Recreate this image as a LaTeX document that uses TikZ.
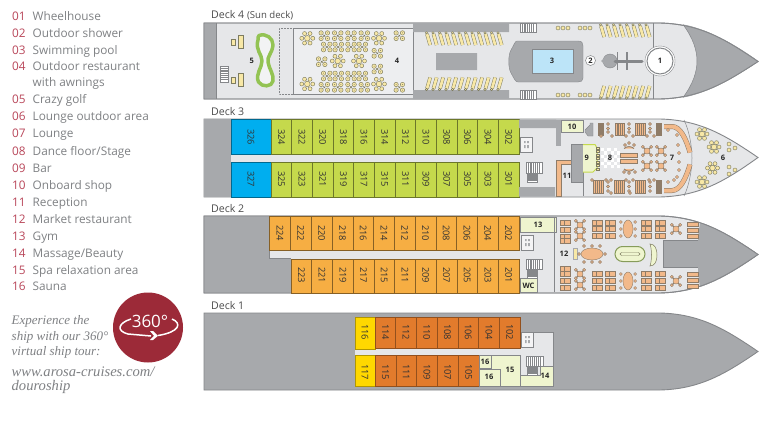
\documentclass[tikz,border=0pt]{standalone}
\usepackage{fontspec}
\setmainfont{Open Sans}
\newfontfamily\serifit{Liberation Serif}
\usetikzlibrary{calc}
\definecolor{hullline}{HTML}{85878A}
\definecolor{hulllight}{HTML}{E6E7E9}
\definecolor{hulldark}{HTML}{A7A9AC}
\definecolor{numred}{HTML}{B9475A}
\definecolor{legtext}{HTML}{7F8184}
\definecolor{wine}{HTML}{9C2A38}
\definecolor{cabblue}{HTML}{00AEEF}
\definecolor{cabgreen}{HTML}{C5D94C}
\definecolor{cabsand}{HTML}{F6AE43}
\definecolor{cabrust}{HTML}{E27B2C}
\definecolor{cabyellow}{HTML}{FFD800}
\definecolor{palegreen}{HTML}{EFF5CF}
\definecolor{pool}{HTML}{BCE4F8}
\definecolor{golf}{HTML}{93C353}
\definecolor{seat}{HTML}{F8E8A6}
\definecolor{seatline}{HTML}{7E7C60}
\definecolor{sofa}{HTML}{F2B98A}
\definecolor{sofaline}{HTML}{8F7C68}
\tikzset{
  x=1pt,y=-1pt,
  hullshape/.style={draw=hullline,line width=0.9pt},
  cabnum/.style={rotate=-90,inner sep=0,text=black!80,font=\fontsize{9.3}{10}\selectfont},
  decklabel/.style={anchor=base west,inner sep=0,text=black!70,font=\fontsize{10.6}{12}\selectfont},
  roomnum/.style={inner sep=0,text=black!85,font=\fontsize{7.5}{9}\selectfont\bfseries},
  legnum/.style={anchor=base west,inner sep=0,text=numred,font=\fontsize{11.8}{13}\selectfont},
  legitem/.style={anchor=base west,inner sep=0,text=legtext,font=\fontsize{11.8}{13}\selectfont},
  tourtext/.style={anchor=base west,inner sep=0,text=legtext,font=\fontsize{13}{14}\serifit\itshape},
  tourlink/.style={anchor=base west,inner sep=0,text=legtext,font=\fontsize{14.6}{15}\serifit\itshape},
  seatdot/.style={fill=seat,draw=seatline,line width=0.45pt},
  sofadot/.style={fill=sofa,draw=sofaline,line width=0.4pt},
  darkpart/.style={fill=hulldark,draw=hullline,line width=0.4pt},
  palebox/.style={fill=palegreen,draw=hullline,line width=0.5pt},
}
\newcommand{\hullpath}[2]{(204,#1) -- (660,#1) .. controls (700,#1+1) and (725,#1+16) .. (758,#1+38.5) .. controls (725,#2-16) and (700,#2-1) .. (660,#2) -- (204,#2) -- cycle}
\newcommand{\cabins}[8]{% first x, width, ytop, ybottom, ytext, colour, outline, list
  \foreach \n [count=\i from 0] in {#8} {
    \draw[fill=#6,draw=#7,line width=0.5pt] ({#1+\i*#2},#3) rectangle ({#1+(\i+1)*#2},#4);
    \node[cabnum] (c\n) at ({#1+(\i+0.5)*#2},#5) {\n};
  }}
\newcommand{\stairs}[4]{\draw[fill=white,draw=hullline,line width=0.4pt] (#1,#2) rectangle (#3,#4);
  \foreach \t in {0.12,0.24,...,0.9} \draw[hullline,line width=0.6pt] ({#1+\t*(#3-#1)},#2) -- ({#1+\t*(#3-#1)},#4);}
\newcommand{\hstairs}[4]{\draw[fill=white,draw=hullline,line width=0.4pt] (#1,#2) rectangle (#3,#4);
  \foreach \t in {0.12,0.24,...,0.9} \draw[hullline,line width=0.6pt] (#1,{#2+\t*(#4-#2)}) -- (#3,{#2+\t*(#4-#2)});}
\newcommand{\liftbox}[2]{\draw[fill=hulllight!45!white,draw=hullline,line width=0.4pt] (#1,#2) rectangle ++(12.5,15);
  \fill[hulldark] (#1+4,#2+4) rectangle ++(1.6,2) (#1+7.2,#2+4) rectangle ++(1.6,2) (#1+4,#2+8) rectangle ++(1.6,3) (#1+7.2,#2+8) rectangle ++(1.6,3);}
\newcommand{\squaretable}[2]{\begin{scope}[shift={(#1,#2)}]
  \foreach \a/\b in {-3.2/-2.8,3.2/-2.8,-3.2/2.8,3.2/2.8} {
    \draw[seatdot] (\a,\b) circle[radius=2.2];
    \fill[seatline] (\a,\b) circle[radius=0.5];
  }
  \draw[seatline,line width=0.5pt] (-1,-1) -- (1,1) (1,-1) -- (-1,1);
  \end{scope}}
\newcommand{\roundtable}[3][5.5]{\begin{scope}[shift={(#2,#3)}]
  \foreach \a in {0,60,...,300} \draw[seatdot] (\a:#1) circle[radius=2];
  \draw[seatdot] (0,0) circle[radius=2.8];
  \end{scope}}
\newcommand{\loungerdown}[2]{\draw[seatline,line width=3.6pt] (#1,#2) -- ++(3.2,11);
  \draw[seat,line width=2.7pt] (#1,#2) -- ++(3.2,11);
  \draw[seatdot] (#1-0.5,#2-1.2) circle[radius=1.2];}
\newcommand{\loungerup}[2]{\draw[seatline,line width=3.6pt] (#1+3.2,#2) -- ++(-3.2,11);
  \draw[seat,line width=2.7pt] (#1+3.2,#2) -- ++(-3.2,11);
  \draw[seatdot] (#1-0.5,#2+12) circle[radius=1.2];}
\newcommand{\crosstable}[2]{\begin{scope}[shift={(#1,#2)}]
  \foreach \a/\b in {-4.2/-4.2,4.2/-4.2,-4.2/4.2,4.2/4.2} {\draw[sofaline,line width=1.2pt] (0,0) -- (\a,\b); \draw[sofadot] (\a,\b) circle[radius=1.5];}
  \draw[sofadot] (0,0) circle[radius=3];
  \end{scope}}
\newcommand{\diner}[2]{\draw[sofadot] (#1-5.2,#2-2.4) rectangle ++(10.4,4.8);
  \draw[sofaline,line width=0.4pt] (#1-1,#2-2.4) -- ++(0,4.8);
  }
\newcommand{\sofablock}[4]{\draw[sofadot] (#1,#2) rectangle (#3,#4);
  \foreach \t in {0.2,0.4,0.6,0.8} \draw[sofaline,line width=0.5pt] ({#1+\t*(#3-#1)},#2) -- ({#1+\t*(#3-#1)},#4);}
\newcommand{\longtable}[2]{\begin{scope}[shift={(#1,#2)}]
  \foreach \a in {-7,0,7} {\draw[sofadot] (-7.2,\a) circle[radius=1.5]; \draw[sofadot] (7.2,\a) circle[radius=1.5];}
  \draw[sofadot] (0,0) ellipse[x radius=5,y radius=9];
  \end{scope}}
\begin{document}
\begin{tikzpicture}
\useasboundingbox (0,0) rectangle (763,431);
\fill[white] (0,0) rectangle (763,431);

% ---------- legend
\foreach \y/\n/\t in {16/01/Wheelhouse,33/02/Outdoor shower,50/03/Swimming pool,66/04/Outdoor restaurant,99/05/Crazy golf,116/06/Lounge outdoor area,133/07/Lounge,151/08/Dance floor{/}Stage,168/09/Bar,185/10/Onboard shop,202/11/Reception,219/12/Market restaurant,236/13/Gym,253/14/Massage{/}Beauty,270/15/Spa relaxation area,286/16/Sauna} {
  \node[legnum] (n\n) at (12,\y+4.3) {\n};
  \node[legitem] (t\n) at (32.5,\y+4.3) {\t};
}
\node[legitem] (t04b) at (32.5,86.3) {with awnings};

\node[tourtext] (e1) at (11.5,324) {Experience the};
\node[tourtext] (e2) at (11.5,340) {ship with our 360°};
\node[tourtext] (e3) at (11.5,355) {virtual ship tour:};
\node[tourlink] (e4) at (11.5,376) {www.arosa-cruises.com/};
\node[tourlink] (e5) at (11.5,390) {douroship};

\fill[wine] (148,327.5) circle[radius=35];
\node[inner sep=0,text=white,font=\fontsize{17}{18}\selectfont] (tour) at (150,321) {360°};
\draw[white,line width=1.5pt] (131,319) .. controls (118,323) and (116,331) .. (128,334) -- (151,336);
\draw[white,line width=1.5pt] (172,319) .. controls (182,323) and (180,332) .. (158,335.5);
\fill[white] (150,331) -- (154,335.8) -- (150,340) -- (153,340) -- (158,335.8) -- (153,331) -- cycle;

% ---------- deck labels
\node[decklabel] (d4) at (211,19) {Deck 4 \fontsize{9.6}{10}\selectfont(Sun deck)};
\node[decklabel] (d3) at (211,115.5) {Deck 3};
\node[decklabel] (d2) at (211,212) {Deck 2};
\node[decklabel] (d1) at (211,309) {Deck 1};

% ---------- DECK 4
\draw[hullshape,fill=hulllight] \hullpath{23}{99};
\fill[hulldark] (204,23) rectangle (216,99);
\draw[hullline,line width=0.5pt] (216,23) -- (216,99);
\fill[hulldark] (683,24.5) .. controls (693,38) and (697,50) .. (697,61) .. controls (697,72) and (693,84) .. (683,97.5) .. controls (705,94) and (735,78) .. (758,61) .. controls (735,44) and (705,28) .. (683,24.5) -- cycle;
\draw[hullline,line width=0.5pt] (683,24.5) .. controls (693,38) and (697,50) .. (697,61) .. controls (697,72) and (693,84) .. (683,97.5);
\draw[hullshape] \hullpath{23}{99};
\draw[hullline,line width=0.5pt] (653,23) -- (653,99);
% outdoor restaurant panel
\draw[hullline,line width=0.6pt,fill=hulllight!70!white] (293,28) rectangle (413,94);
\draw[hullline,densely dotted,line width=0.5pt] (293,28) -- (279,28) -- (279,94) -- (293,94);
\fill[hulldark] (413,23) rectangle (509,32) (413,90) rectangle (509,99) (436,53) rectangle (477,70);
\stairs{520}{23}{536}{32}
\stairs{520}{90}{536}{99}
% aft furniture
\foreach \y in {42,80} {
  \draw[fill=seat,draw=seatline,line width=0.5pt] (231.5,\y-3) rectangle ++(4,6);
  \draw[fill=seat,draw=seatline,line width=0.5pt] (238.5,\y-6.5) rectangle ++(5,13);
}
\hstairs{220.5}{66}{228}{82}
% crazy golf
\draw[golf,fill=hulllight!50!white,line width=3.5pt,line join=round] (259,35.5) .. controls (266,33) and (273,38) .. (273,45) .. controls (272,54) and (267,56) .. (268,62) .. controls (269,69) and (274,74) .. (273,81) .. controls (272,87) and (262,87.5) .. (258.5,82) .. controls (255,74) and (262,68) .. (262,61) .. controls (262,54) and (255,50) .. (258,40) .. controls (258,38) and (258,36) .. (259,35.5) -- cycle;
\node[roomnum] (r5) at (251.7,61) {5};
\node[roomnum] (r4) at (397,61) {4};
% restaurant tables
\foreach \a/\b in {324.3/35.7,337.7/35.7,351/35.7,364.3/35.7,326.7/47,338.3/47,351/47,362.3/47,321.7/61.7,399.3/35.7,377.3/53.3,377.3/69,326.7/76,338.3/76,351/76,362.3/76,324.3/87.3,337.7/87.3,351/87.3,364.3/87.3,399.3/87.3}
  {\squaretable{\a}{\b}}
\foreach \a/\b in {307.3/38.3,379/38.3,307.3/84,379/84,337.7/61,359/61}
  {\roundtable{\a}{\b}}
% loungers
\foreach \x in {427,433.5,440,446.5,453,459.5,466,472.5,479,485.5,492,498.5} {\loungerdown{\x}{34}}
\foreach \x in {427,433.5,440,446.5,453,459.5,466,472.5,479,485.5,492,498.5} {\loungerup{\x}{77.5}}
\foreach \x in {601,607.5,614,620.5,627,633.5,640,646.5} {\loungerdown{\x}{26}}
\foreach \x in {601,607.5,614,620.5,627,633.5,640,646.5} {\loungerup{\x}{86}}
\foreach \x in {556,578} {
  \foreach \d in {2,7,12} {
    \draw[seatdot] (\x+\d,28) circle[radius=2];
    \draw[seatdot] (\x+\d,95) circle[radius=2];
  }}
% pool
\draw[darkpart] (517,41) -- (578,41) .. controls (582,41) and (583,43) .. (583,46) -- (583,78) .. controls (583,81) and (581,82) .. (578,82) -- (518,82) .. controls (515,82) and (514,78) .. (511,73) .. controls (508,68) and (508,55) .. (511,50) .. controls (514,45) and (515,41) .. (517,41) -- cycle;
\draw[fill=pool,draw=hullline,line width=0.5pt] (532,49.5) rectangle (573,73);
\node[roomnum] (r3) at (552,60.5) {3};
\node[draw=hullline,fill=white,circle,inner sep=0,minimum size=10pt,line width=0.5pt,font=\fontsize{7.5}{9}\selectfont\bfseries,text=black!85] (r2) at (590.5,60.5) {2};
% shower
\draw[darkpart] (610,61) circle[radius=7];
\fill[hulldark] (601,61) -- (605,57) -- (605,65) -- cycle;
\draw[hullline,line width=3pt,line cap=round] (615,61) -- (642,61);
\draw[hullline,line width=1.1pt] (617.5,52) -- (617.5,70);
\draw[hullline,line width=1.6pt] (627,52) -- (627,70);
% wheelhouse
\draw[hullline,line width=0.4pt,fill=white] (660,61) circle[radius=15];
\draw[hullline,line width=1pt,fill=white] (660,61) circle[radius=13];
\node[roomnum] (r1) at (660,61) {1};

% ---------- DECK 3
\draw[hullshape,fill=hulllight] \hullpath{119}{197};
\fill[hulldark] (204,119) rectangle (231,197);
\draw[hullline,line width=0.5pt] (684,120) .. controls (689,130) and (692,146) .. (692,158) .. controls (692,170) and (689,186) .. (684,196);
\cabins{231}{40}{119}{154.5}{137}{cabblue}{black!40!cabblue}{326}
\cabins{231}{40}{162}{197}{179}{cabblue}{black!40!cabblue}{327}
\cabins{271}{20.67}{119}{154.5}{137}{cabgreen}{black!45!cabgreen}{324,322,320,318,316,314,312,310,308,306,304,302}
\cabins{271}{20.67}{162}{197}{179}{cabgreen}{black!45!cabgreen}{325,323,321,319,317,315,311,309,307,305,303,301}
\fill[hulldark] (519,119.5) rectangle (556,128) (519,187) rectangle (555,196.5);
\fill[hulldark] (556,119.5) rectangle (561,146);
\liftbox{520}{137}
\stairs{526}{162}{542}{173}
\hstairs{527}{173}{537}{182}
\draw[palebox] (561.5,120) rectangle (583,132);
\node[roomnum] (r10) at (572,126.5) {10};
% reception
\draw[sofadot,fill=sofa] (556,196) -- (556,160) -- (571,160) -- (571,164) -- (561,164) -- (561,196) -- cycle;
\fill[hulldark] (571,144) rectangle (583,182);
\draw[hullline,line width=0.5pt] (571,144) rectangle (583,182);
\draw[hullline,line width=0.7pt] (583,182) -- (583,196) (583,120) -- (583,132);
\node[roomnum] (r11) at (567,176) {11};
% bar
\draw[palebox,draw=cabgreen,line width=1pt] (583,144.5) -- (595,144.5) -- (597,148) -- (597,168) -- (593,172) -- (583,172);
\foreach \y in {148,151.5,155,158.5,162,165.5,169} \draw[seatdot] (596,\y-1) rectangle ++(3.5,2.2);
\node[roomnum] (r9) at (586.8,158) {9};
% dance floor
\foreach \i in {0,...,5} \foreach \j in {0,...,5} {
  \pgfmathparse{int(mod(\i+\j,2))}
  \ifnum\pgfmathresult=0 \fill[white] ({601+\i*3.2},{148+\j*3.4}) rectangle ++(3.2,3.4);\fi
}
\node[roomnum] (r8) at (610,158) {8};
\node[roomnum] (r7) at (672,158) {7};
\node[roomnum] (r6) at (723,158) {6};
% lounge furniture
\draw[hullline,fill=hulldark,line width=0.4pt] (585,130) -- (590,125) -- (590,123) -- (593,123) -- (593,136) -- (588,136) -- (585,132) -- cycle;
\sofablock{598}{123}{603}{135}
\sofablock{615}{123}{624}{135}
\sofablock{635}{123}{645}{135}
\sofablock{656}{123}{661}{135}
\sofablock{593}{180}{603}{193}
\sofablock{614}{180}{624}{193}
\sofablock{635}{180}{645}{193}
\sofablock{656}{180}{661}{193}
\foreach \a in {608,629,650} {
  \foreach \b in {124,128.5,132} \draw[sofadot] (\a,\b) circle[radius=1.5];
  \foreach \b in {182,186.5,191} \draw[sofadot] (\a,\b) circle[radius=1.5];
}
\foreach \a/\b in {601/136,612/136,626/136,633/136,647/136,654/136,592/180,606/180,611/180,626/180,633/180,649/180,654/180,611/193,630/193} \draw[sofadot] (\a,\b) circle[radius=1.5];
\foreach \m in {1,-1} {
  \begin{scope}[shift={(0,158.5)},yscale=\m]
  \draw[sofaline,line width=5pt] (664,32) -- (672,32) .. controls (680,32) and (686,20) .. (690,6);
  \draw[sofa,line width=4pt] (664,32) -- (672,32) .. controls (680,32) and (686,20) .. (690,6);
  \end{scope}
}
\foreach \a/\b in {668/130,677/135,678/145,679/153,679/162,679/170,677/177,668/182,674/180} \draw[sofadot] (\a,\b) circle[radius=1.6];
\foreach \y in {153,159} \draw[sofadot] (620.5,\y) rectangle ++(17,4);
\draw[sofaline,line width=0.9pt,fill=sofa] (624,148.5) .. controls (627,146) and (631,146) .. (634,148.5);
\draw[sofaline,line width=0.9pt,fill=sofa] (624,169) .. controls (627,172) and (631,172) .. (634,169);
\foreach \a/\b in {625/145,629/143,634/145,624/172,629/173,635/172} \draw[sofadot] (\a,\b) circle[radius=1.5];
\foreach \a/\b in {647/151,661/151,647/166,661/166} {\crosstable{\a}{\b}}
% bow lounge
\foreach \a/\b in {702/134,702/182,714/147,712.5/168} {\roundtable[5]{\a}{\b}}
\foreach \a/\b in {729/144,729/150,735/148,729/167,729/174,735/170} \draw[seatdot] (\a,\b) circle[radius=2];

% ---------- DECK 2
\draw[hullshape,fill=hulllight] \hullpath{216}{293};
\fill[hulldark] (204,216) rectangle (270,293);
\fill[hulldark] (270,258) rectangle (291,293);
\fill[hulllight] (269,250) rectangle (291,258);
\draw[hullline,line width=0.5pt] (269.5,250) -- (269.5,258) -- (291,258);
\fill[hulldark] (700,223) .. controls (699,230) and (698,235) .. (698,240) -- (663,240) -- (663,267) -- (698,267) .. controls (698,275) and (699,280) .. (700,287) .. controls (720,280) and (740,268) .. (758,254.5) .. controls (740,241) and (720,230) .. (700,223) -- cycle;
\draw[hullline,line width=0.5pt] (698,240) -- (663,240) -- (663,267) -- (698,267);
\draw[hullshape] \hullpath{216}{293};
\cabins{269.7}{20.77}{216}{250}{233}{cabsand}{black!45!cabsand}{224,222,220,218,216,214,212,210,208,206,204,202}
\cabins{291}{20.73}{259}{293}{275}{cabsand}{black!45!cabsand}{223,221,219,217,215,211,209,207,205,203,201}
\draw[palebox] (520,217) rectangle (556,232);
\node[roomnum] (r13) at (538,225) {13};
\liftbox{521}{235}
\stairs{526}{259}{542}{269}
\hstairs{527}{269}{537}{278}
\draw[palebox] (520,278) rectangle (537,292);
\node[roomnum] (rwc) at (528.5,285.5) {WC};
\draw[hullline,line width=0.9pt] (554,217) -- (554,292);
\node[roomnum] (r12) at (564,253.5) {12};
\draw[seatdot,draw=hulldark] (573,248) rectangle ++(4,11);
\foreach \a/\b in {584/246,592/246,600/246,584/262,592/262,600/262,579/254,605/254} \draw[sofadot] (\a,\b) circle[radius=1.5];
\draw[sofadot] (592,254) ellipse[x radius=11,y radius=6];
\draw[golf!45!seatline,line width=1pt,fill=palegreen,rounded corners=7.5pt] (615,246.5) rectangle (645,261.5);
\draw[seatline,line width=0.4pt,fill=palegreen,rounded corners=1.5pt] (620,252.5) rectangle (640,255.5);
\draw[seatline,line width=0.5pt,fill=palegreen] (650,244) .. controls (655,244) and (657,249) .. (657,255) .. controls (657,261) and (655,266) .. (650,266) .. controls (652,260) and (652,250) .. (650,244) -- cycle;
\foreach \m/\s in {1/0,-1/510} {
\begin{scope}[shift={(0,\s)},yscale=\m]
  \foreach \a/\b in {565/222.5,565/229.5,565/236.5,565/241,597/222.5,597/229,597/236,610/222.5,610/229,610/236,646/222.5,646/229,646/236,660/222.5,660/229,660/236} {\diner{\a}{\b}}
  \foreach \b in {224,230,236} \draw[sofadot] (687,\b-2) rectangle ++(11,4);
  \crosstable{580}{225}
  \crosstable{580}{236}
  \crosstable{676}{229}
  \longtable{628}{229}
\end{scope}
}

% ---------- DECK 1
\draw[hullshape,fill=hulldark] \hullpath{313}{390};
\fill[hulllight] (355,349) -- (520,349) -- (520,332) -- (553,332) -- (553,386) -- (355,386) -- cycle;
\draw[hullline,line width=0.5pt] (520,332) -- (553,332) -- (553,386);
\cabins{355}{20}{317}{349}{332}{cabyellow}{black!30!cabyellow}{116}
\cabins{355}{20}{355}{386}{372}{cabyellow}{black!30!cabyellow}{117}
\cabins{375}{20.71}{317}{348.5}{332}{cabrust}{black!35!cabrust}{114,112,110,108,106,104,102}
\cabins{375}{20.8}{355}{386}{372}{cabrust}{black!35!cabrust}{115,111,109,107,105}
\draw[palebox] (479,355) rectangle (520,386);
\draw[palebox] (479,355) rectangle (491.5,368);
\draw[palebox] (479,369) rectangle (500.5,386);
\node[roomnum] (r16a) at (485,362) {16};
\node[roomnum] (r16b) at (489,377) {16};
\node[roomnum] (r15) at (510,370) {15};
\draw[palebox] (520,375) -- (540,375) -- (540,366) -- (553,366) -- (553,386) -- (520,386) -- cycle;
\node[roomnum] (r14) at (545,375.5) {14};
\liftbox{521}{332}
\stairs{526}{356}{543}{366}
\hstairs{527}{366}{537}{375}
\end{tikzpicture}
\end{document}
